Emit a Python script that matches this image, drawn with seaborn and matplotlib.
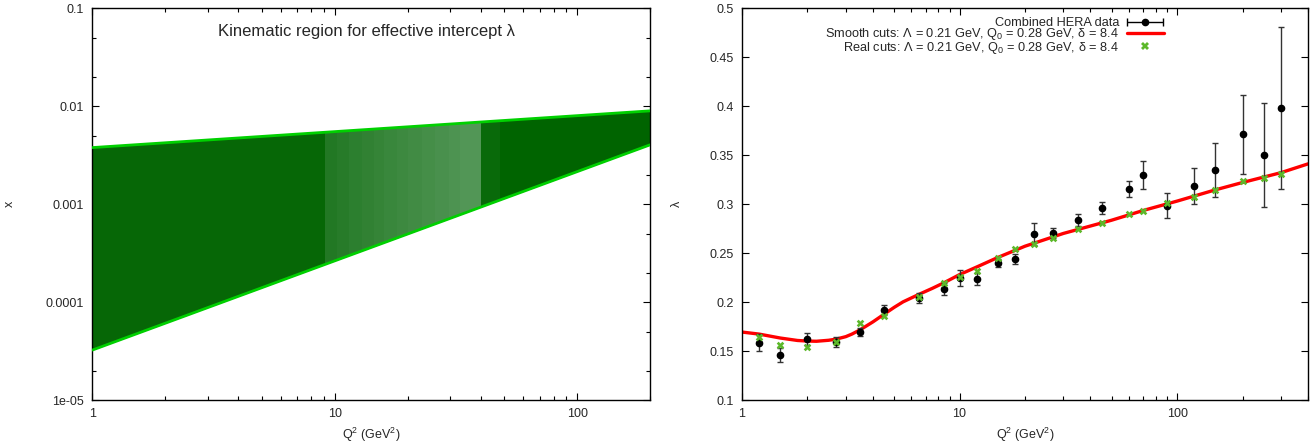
import numpy as np
import matplotlib
matplotlib.use("Agg")
import matplotlib.pyplot as plt
import matplotlib.ticker as mticker
import seaborn as sns
from matplotlib.container import ErrorbarContainer
from matplotlib.legend_handler import HandlerErrorbar
from matplotlib.lines import Line2D
from matplotlib.collections import LineCollection

sns.set_theme(style="ticks")
plt.rcParams["font.family"] = ["Liberation Sans", "DejaVu Sans"]
plt.rcParams["mathtext.fontset"] = "custom"
plt.rcParams["mathtext.rm"] = "Liberation Sans"
plt.rcParams["mathtext.it"] = "Liberation Sans:italic"
plt.rcParams["font.size"] = 9

# Left panel: kinematic band, edges of the (Q2, x) region
band_q2 = [1, 200]
band_x_upper = [0.00377, 0.00893]
band_x_lower = [3.24e-5, 0.00402]
# lighter shading seen inside the band
shade_lo = [1.0, 9.1, 10.2, 11.4, 13, 14.5, 16, 18, 20, 23, 26, 29.5, 33, 40]
shade_hi = [9.1, 10.2, 11.4, 13, 14.5, 16, 18, 20, 23, 26, 29.5, 33, 40, 48]
shade_alpha = [0.08, 0.42, 0.48, 0.55, 0.6, 0.65, 0.7, 0.75, 0.8, 0.85,
               0.9, 0.95, 1.0, 0.12]

# Right panel: HERA data and fits
q2 = [1.2, 1.5, 2.0, 2.7, 3.5, 4.5, 6.5, 8.5, 10, 12, 15, 18,
      22, 27, 35, 45, 60, 70, 90, 120, 150, 200, 250, 300]
lam_data = [0.1586, 0.146, 0.1623, 0.1596, 0.1694, 0.1916, 0.2045, 0.213,
            0.2243, 0.2233, 0.2396, 0.2436, 0.2692, 0.2705, 0.2835, 0.2961,
            0.3155, 0.3298, 0.2981, 0.3185, 0.3345, 0.371, 0.3505, 0.3982]
lam_err = [0.0085, 0.007, 0.006, 0.005, 0.004, 0.005, 0.005, 0.006,
           0.008, 0.006, 0.004, 0.005, 0.011, 0.005, 0.006, 0.0065,
           0.008, 0.014, 0.0128, 0.018, 0.0276, 0.04, 0.053, 0.0826]
lam_real = [0.164, 0.1562, 0.1545, 0.1596, 0.1783, 0.1858, 0.2055, 0.2195,
            0.226, 0.2317, 0.2454, 0.2542, 0.2597, 0.2654, 0.275, 0.2804,
            0.290, 0.2934, 0.3015, 0.307, 0.3145, 0.3237, 0.327, 0.3308]
smooth_q2 = [1.0, 1.2, 1.5, 1.8, 2.0, 2.2, 2.5, 2.7, 3.0, 3.2, 3.5, 4.0,
             4.5, 5.0, 5.5, 6.5, 7.5, 8.5, 10, 12, 15, 20, 30, 50,
             70, 100, 150, 200, 300, 400]
smooth_lam = [0.1694, 0.1673, 0.1633, 0.1608, 0.1602, 0.1600, 0.1610, 0.1621,
              0.1647, 0.1673, 0.1718, 0.1798, 0.1876, 0.1945, 0.2002, 0.2078,
              0.2140, 0.2198, 0.2280, 0.2358, 0.2455, 0.2570, 0.2700, 0.2835,
              0.2935, 0.3030, 0.3145, 0.3220, 0.3320, 0.3410]

DARK_GREEN = "#006400"
EDGE_GREEN = "#00d000"
LIGHT_GREEN = "#529656"
CROSS_GREEN = "#5cb82a"

fig = plt.figure(figsize=(13.1, 4.47), dpi=100)
ax1 = fig.add_axes([0.0706, 0.105, 0.4256, 0.877])
ax2 = fig.add_axes([0.5664, 0.105, 0.4321, 0.877])


def gnuplot_axes(ax):
    ax.tick_params(which="both", direction="in", top=True, right=True,
                   color="black", labelsize=9, width=0.8)
    ax.tick_params(which="major", length=5, pad=6)
    ax.tick_params(which="minor", length=3)
    for sp in ax.spines.values():
        sp.set_visible(True)
        sp.set_linewidth(1.0)
        sp.set_color("black")


# ---- left panel
band = ax1.fill_between(band_q2, band_x_lower, band_x_upper,
                        color=DARK_GREEN, lw=0, zorder=1)
band_path = band.get_paths()[0]
for lo, hi, a in zip(shade_lo, shade_hi, shade_alpha):
    span = ax1.axvspan(lo, hi, color=LIGHT_GREEN, alpha=a, lw=0, zorder=2)
    span.set_clip_path(band_path, ax1.transData)
sns.lineplot(x=band_q2, y=band_x_upper, ax=ax1, color=EDGE_GREEN, lw=2, zorder=3)
sns.lineplot(x=band_q2, y=band_x_lower, ax=ax1, color=EDGE_GREEN, lw=2, zorder=3)
ax1.set_xscale("log")
ax1.set_yscale("log")
ax1.set_xlim(1, 200)
ax1.set_ylim(1e-5, 0.1)
ax1.xaxis.set_major_formatter(mticker.FuncFormatter(lambda v, _: f"{v:g}"))
ax1.yaxis.set_major_formatter(mticker.FuncFormatter(lambda v, _: f"{v:g}"))
ax1.xaxis.set_minor_locator(mticker.LogLocator(subs=np.arange(2, 10)))
ax1.yaxis.set_minor_locator(mticker.LogLocator(subs=[2, 5]))
ax1.xaxis.set_minor_formatter(mticker.NullFormatter())
ax1.yaxis.set_minor_formatter(mticker.NullFormatter())
ax1.set_xlabel("Q$^2$ (GeV$^2$)", fontsize=9, labelpad=4)
ax1.set_ylabel("x", fontsize=9)
ax1.yaxis.set_label_coords(-0.138, 0.5)
ax1.text(0.492, 0.941, "Kinematic region for effective intercept λ",
         transform=ax1.transAxes, ha="center", va="center", fontsize=12)
gnuplot_axes(ax1)

# ---- right panel
lbl_data = "Combined HERA data"
lbl_smooth = "Smooth cuts: Λ = 0.21 GeV, Q$_0$ = 0.28 GeV, δ = 8.4"
lbl_real = "Real cuts: Λ = 0.21 GeV, Q$_0$ = 0.28 GeV, δ = 8.4"

ax2.errorbar(q2, lam_data, yerr=lam_err, fmt="o", color="black", ms=4.5,
             ecolor="#333333", elinewidth=1, capsize=2.5, capthick=1, zorder=3)
sns.lineplot(x=smooth_q2, y=smooth_lam, ax=ax2, color="#ff0000", lw=2.4, zorder=2)
sns.scatterplot(x=q2, y=lam_real, ax=ax2, marker="X", color=CROSS_GREEN,
                s=30, linewidth=0, zorder=4)
ax2.set_xscale("log")
ax2.set_xlim(1, 400)
ax2.set_ylim(0.1, 0.5)
ax2.yaxis.set_major_locator(mticker.MultipleLocator(0.05))
ax2.yaxis.set_major_formatter(mticker.FuncFormatter(lambda v, _: f"{v:g}"))
ax2.xaxis.set_major_formatter(mticker.FuncFormatter(lambda v, _: f"{v:g}"))
ax2.xaxis.set_minor_locator(mticker.LogLocator(subs=np.arange(2, 10)))
ax2.xaxis.set_minor_formatter(mticker.NullFormatter())
ax2.set_xlabel("Q$^2$ (GeV$^2$)", fontsize=9, labelpad=4)
ax2.set_ylabel("λ", fontsize=9)
ax2.yaxis.set_label_coords(-0.104, 0.5)
gnuplot_axes(ax2)

pt = Line2D([], [], marker="o", ms=4.5, color="black", ls="none")
cap = Line2D([], [], marker="|", ms=6, mew=1, color="black", ls="none")
bar = LineCollection([], colors="black", linewidths=1)
h_data = ErrorbarContainer((pt, (cap, cap), (bar,)), has_xerr=True,
                           has_yerr=False, label=lbl_data)
h_smooth = Line2D([], [], color="#ff0000", lw=2.4)
h_real = Line2D([], [], marker="X", ms=6, mew=0, color=CROSS_GREEN, ls="none")
ax2.legend([h_data, h_smooth, h_real], [lbl_data, lbl_smooth, lbl_real],
           handler_map={ErrorbarContainer: HandlerErrorbar(xerr_size=1.4)},
           loc="upper right", bbox_to_anchor=(0.761, 1.0), frameon=False,
           markerfirst=False, handlelength=2.9, handletextpad=0.6,
           labelspacing=-0.2, borderaxespad=0.3, fontsize=9.2)

fig.savefig("out.png", dpi=100)
